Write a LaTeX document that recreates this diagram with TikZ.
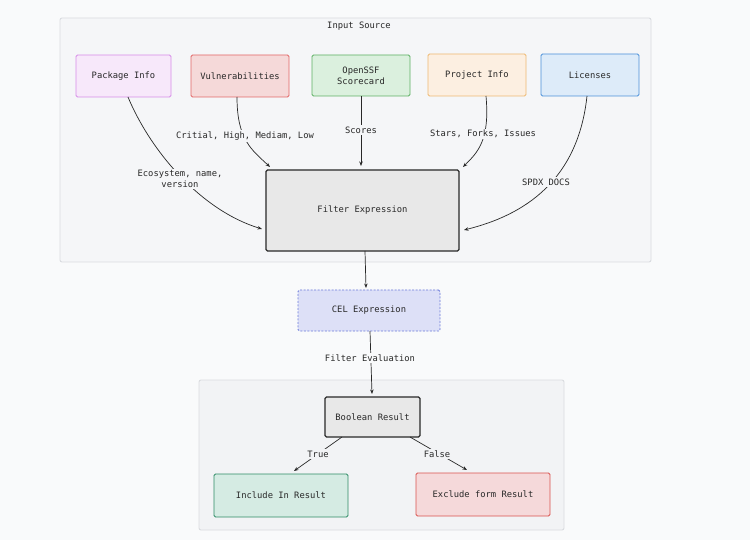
\documentclass[tikz,border=0pt]{standalone}
\usepackage{fontspec}
\setmonofont{DejaVu Sans Mono}
\usetikzlibrary{arrows.meta}
\definecolor{pagebg}{RGB}{249,250,251}
\definecolor{grpbg}{RGB}{245,246,248}
\definecolor{grpbd}{RGB}{218,220,224}
\definecolor{lowbg}{RGB}{242,243,245}
\definecolor{pkgbg}{RGB}{247,232,250}
\definecolor{pkgbd}{RGB}{214,140,232}
\definecolor{vulbg}{RGB}{245,217,217}
\definecolor{vulbd}{RGB}{226,102,102}
\definecolor{ossbg}{RGB}{219,240,222}
\definecolor{ossbd}{RGB}{92,176,98}
\definecolor{prjbg}{RGB}{252,239,225}
\definecolor{prjbd}{RGB}{238,184,112}
\definecolor{licbg}{RGB}{221,235,249}
\definecolor{licbd}{RGB}{74,144,217}
\definecolor{fltbg}{RGB}{232,232,232}
\definecolor{celbg}{RGB}{221,224,247}
\definecolor{celbd}{RGB}{108,123,217}
\definecolor{incbg}{RGB}{213,235,227}
\definecolor{incbd}{RGB}{46,139,101}
\definecolor{excbg}{RGB}{245,217,218}
\definecolor{excbd}{RGB}{217,83,79}
\definecolor{ink}{RGB}{40,40,40}
\tikzset{
  every node/.style={font=\ttfamily\fontsize{8.8}{11}\selectfont, text=ink},
  box/.style={draw, rounded corners=1.5pt, inner sep=0pt, align=center, line width=0.9pt},
  grp/.style={draw=grpbd, rounded corners=2pt, line width=0.9pt},
  conn/.style={draw=ink, line width=0.7pt, -{Stealth[length=4.5pt,width=3.5pt]}},
  lbl/.style={fill=#1, inner sep=1.5pt, align=center},
}
\begin{document}
\begin{tikzpicture}[x=1pt,y=-1pt]
\useasboundingbox[fill=pagebg] (0,0) rectangle (750,540);
% groups
\draw[grp, fill=grpbg] (60,18) rectangle (651,262);
\node (title) at (359,26) {Input Source};
\draw[grp, fill=lowbg] (199,380) rectangle (564,530);

% source boxes
\node[box, draw=pkgbd, fill=pkgbg, minimum width=95pt, minimum height=42pt] (pkg) at (123.5,76) {Package Info};
\node[box, draw=vulbd, fill=vulbg, minimum width=98pt, minimum height=42pt] (vul) at (240,76) {Vulnerabilities};
\node[box, draw=ossbd, fill=ossbg, minimum width=98pt, minimum height=41pt] (oss) at (361,75.5) {OpenSSF\\Scorecard};
\node[box, draw=prjbd, fill=prjbg, minimum width=98pt, minimum height=42pt] (prj) at (477,75) {Project Info};
\node[box, draw=licbd, fill=licbg, minimum width=98pt, minimum height=42pt] (lic) at (590,75) {Licenses};

% filter
\node[box, draw=ink, fill=fltbg, line width=1.1pt, minimum width=193pt, minimum height=81pt] (flt) at (362.5,210.5) {Filter Expression};
\node[box, draw=celbd, fill=celbg, dashed, dash pattern=on 2pt off 1.5pt, minimum width=142pt, minimum height=41pt] (cel) at (369,310.5) {CEL Expression};
\node[box, draw=ink, fill=fltbg, line width=1.1pt, minimum width=95pt, minimum height=40pt] (bool) at (372.5,417) {Boolean Result};
\node[box, draw=incbd, fill=incbg, minimum width=134pt, minimum height=43pt] (inc) at (281,495.5) {Include In Result};
\node[box, draw=excbd, fill=excbg, minimum width=134pt, minimum height=43pt] (exc) at (483,494.5) {Exclude form Result};

% connectors
\coordinate (pkgS) at (128,97);
\draw[conn] (pkgS) .. controls (150,150) and (200,210) .. (262,229);
\node[lbl=grpbg] (l1) at (180,179) {Ecosystem, name,\\version};

\coordinate (vulS) at (237,97);
\draw[conn] (vulS) .. controls (237,140) and (252,150) .. (270,167);
\node[lbl=grpbg] (l2) at (245,136) {Critial, High, Mediam, Low};

\draw[conn] (oss.south) -- (361,166);
\node[lbl=grpbg] (l3) at (361,130) {Scores};

\coordinate (prjS) at (486,96);
\draw[conn] (prjS) .. controls (490,140) and (478,152) .. (463,167);
\node[lbl=grpbg] (l4) at (483,134) {Stars, Forks, Issues};

\coordinate (licS) at (587,96);
\draw[conn] (licS) .. controls (578,180) and (525,215) .. (464,230);
\node[lbl=grpbg] (l5) at (546,182) {SPDX DOCS};

\coordinate (fltB) at (365,251);
\draw[conn] (fltB) -- (366,288);

\coordinate (celB) at (370,331);
\draw[conn] (celB) -- (372,394);
\node[lbl=pagebg] (l6) at (370,358) {Filter Evaluation};

\coordinate (boolL) at (342,437);
\draw[conn] (boolL) -- (294,471);
\node[lbl=lowbg] (l7) at (318,454) {True};

\coordinate (boolR) at (410,437);
\draw[conn] (boolR) -- (467,470);
\node[lbl=lowbg] (l8) at (437,454) {False};
\end{tikzpicture}
\end{document}
